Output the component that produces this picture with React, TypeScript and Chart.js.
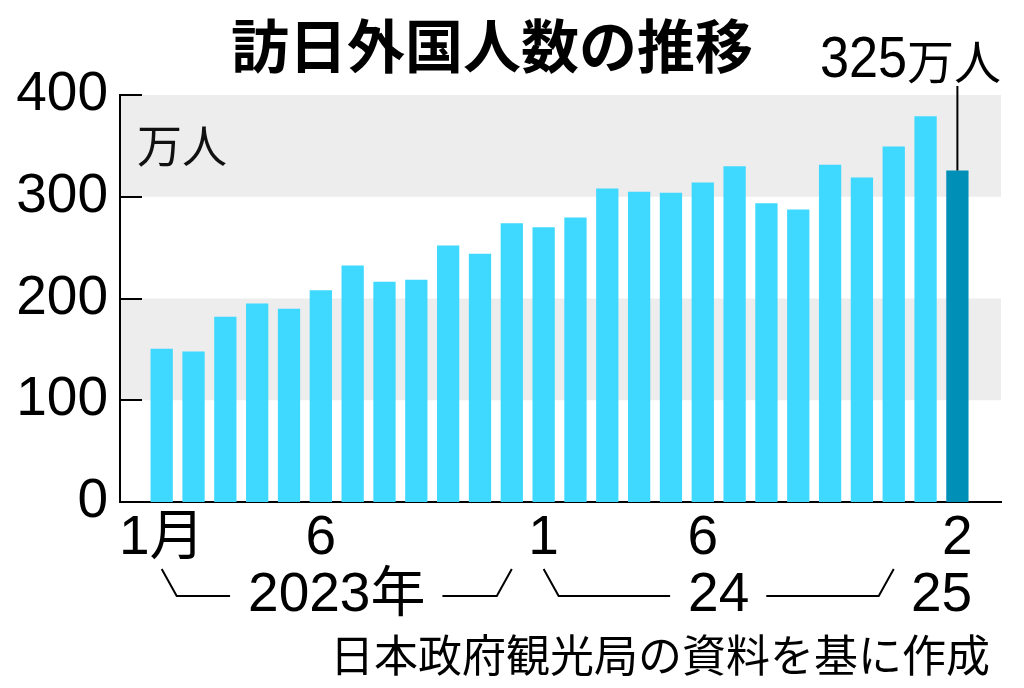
import React, { useEffect, useRef } from "react";
import { Chart, registerables } from "chart.js";

Chart.register(...registerables);

// ---- data ----
const categories = [
  "2023/1", "2023/2", "2023/3", "2023/4", "2023/5", "2023/6",
  "2023/7", "2023/8", "2023/9", "2023/10", "2023/11", "2023/12",
  "2024/1", "2024/2", "2024/3", "2024/4", "2024/5", "2024/6",
  "2024/7", "2024/8", "2024/9", "2024/10", "2024/11", "2024/12",
  "2025/1", "2025/2",
];
const visitors = [
  150.5, 148, 182, 195, 190, 208, 232.5, 216.5, 218.5, 252, 244, 274,
  270, 279.5, 308, 305, 304, 314, 330, 293.5, 287.5, 331.5, 319, 349.5,
  379, 325.8,
];
const xTickLabels = [
  "1月", "", "", "", "", "6", "", "", "", "", "", "",
  "1", "", "", "", "", "6", "", "", "", "", "", "",
  "", "2",
];
const yearLabels = ["2023年", "24", "25"];
const yearStartIdx = [0, 12, 24];
const yearEndIdx = [11, 23, 25];
const yTicks = [0, 100, 200, 300, 400];
const bandRanges = [[100, 200], [300, 400]];
const highlightIndex = 25;
const titleText = "訪日外国人数の推移";
const unitText = "万人";
const sourceText = "日本政府観光局の資料を基に作成";

// ---- style ----
const X_MIN = -1.31;
const X_MAX = 26.37;
const BAR = "#3FD8FE";
const BAR_HL = "#008FB7";
const BAND = "#EDEDED";
const SANS = '"Liberation Sans", Arial, "Noto Sans CJK JP", sans-serif';
const CJK = '"Noto Sans CJK JP", sans-serif';

const decor = {
  id: "decor",
  beforeDraw(chart: any) {
    const { ctx, chartArea: ca, scales } = chart;
    const y = scales.y;
    ctx.save();
    ctx.fillStyle = BAND;
    for (const [lo, hi] of bandRanges) {
      const yt = y.getPixelForValue(hi);
      const yb = y.getPixelForValue(lo);
      ctx.fillRect(ca.left + 1, yt, ca.right - ca.left - 1, yb - yt);
    }
    ctx.restore();
  },
  afterDraw(chart: any) {
    const { ctx, chartArea: ca, scales } = chart;
    const x = scales.x;
    const y = scales.y;
    ctx.save();
    ctx.strokeStyle = "#000";
    ctx.fillStyle = "#000";
    ctx.lineWidth = 2;

    // inner tick marks
    for (const v of yTicks) {
      if (v === 0) continue;
      const py = Math.round(y.getPixelForValue(v));
      ctx.beginPath();
      ctx.moveTo(ca.left, py);
      ctx.lineTo(ca.left + 22, py);
      ctx.stroke();
    }

    // title
    ctx.font = `bold 58px ${CJK}`;
    ctx.textAlign = "center";
    ctx.textBaseline = "middle";
    ctx.fillText(titleText, 492, 46);

    // unit
    ctx.font = `45px ${CJK}`;
    ctx.textAlign = "left";
    ctx.fillStyle = "#111";
    ctx.fillText(unitText, ca.left + 17, ca.top + 51);
    ctx.fillStyle = "#000";

    // highlight annotation
    const hx = x.getPixelForValue(highlightIndex);
    const hy = y.getPixelForValue(visitors[highlightIndex]);
    ctx.beginPath();
    ctx.moveTo(hx, 86);
    ctx.lineTo(hx, hy);
    ctx.stroke();
    ctx.textAlign = "right";
    ctx.font = `47px ${CJK}`;
    const unitW = ctx.measureText(unitText).width;
    ctx.fillText(unitText, ca.right, 61);
    ctx.font = `58px ${SANS}`;
    ctx.save();
    ctx.translate(ca.right - unitW, 0);
    ctx.scale(0.9, 1);
    ctx.fillText(String(Math.floor(visitors[highlightIndex])), 0, 61);
    ctx.restore();

    // year row
    const rowY = ca.bottom + 94;
    const topY = ca.bottom + 67;
    ctx.font = `55px ${SANS}`;
    ctx.textAlign = "center";
    for (let i = 0; i < yearLabels.length; i++) {
      const xs = x.getPixelForValue(yearStartIdx[i]);
      const xe = x.getPixelForValue(yearEndIdx[i]);
      const cx = (xs + xe) / 2;
      ctx.fillText(yearLabels[i], cx, rowY);
      if (yearEndIdx[i] - yearStartIdx[i] >= 3) {
        const w = ctx.measureText(yearLabels[i]).width;
        ctx.beginPath();
        ctx.moveTo(xs, topY);
        ctx.lineTo(xs + 15, rowY);
        ctx.lineTo(cx - w / 2 - 18, rowY);
        ctx.moveTo(cx + w / 2 + 17, rowY);
        ctx.lineTo(xe - 15, rowY);
        ctx.lineTo(xe, topY);
        ctx.stroke();
      }
    }

    // source
    ctx.font = `44px ${CJK}`;
    ctx.textAlign = "right";
    ctx.fillText(sourceText, 990, 655);
    ctx.restore();
  },
};

export default function App() {
  const ref = useRef<HTMLCanvasElement | null>(null);
  useEffect(() => {
    if (!ref.current) return;
    const tickIdx = xTickLabels
      .map((l, i) => (l ? i : -1))
      .filter((i) => i >= 0);
    const chart = new Chart(ref.current, {
      type: "bar",
      data: {
        labels: categories,
        datasets: [
          {
            data: visitors.map((v, i) => ({ x: i, y: v })) as any,
            backgroundColor: visitors.map((_, i) => (i === highlightIndex ? BAR_HL : BAR)),
            borderWidth: 0,
            barPercentage: 0.7,
            categoryPercentage: 1,
          },
        ],
      },
      options: {
        animation: false,
        responsive: false,
        maintainAspectRatio: false,
        layout: { padding: { top: 95, right: 23, left: 0, bottom: 0 } },
        plugins: { legend: { display: false }, tooltip: { enabled: false }, title: { display: false } },
        scales: {
          x: {
            type: "linear",
            min: X_MIN,
            max: X_MAX,
            bounds: "data",
            offset: false,
            grid: { display: false, drawTicks: false, offset: false },
            border: { display: true, color: "#000", width: 2 },
            afterBuildTicks: (scale: any) => {
              scale.ticks = tickIdx.map((v) => ({ value: v }));
              scale.min = X_MIN;
              scale.max = X_MAX;
            },
            afterFit: (scale: any) => {
              scale.height = 186;
            },
            ticks: {
              autoSkip: false,
              maxRotation: 0,
              padding: 4,
              color: "#000",
              font: { family: SANS, size: 55 },
              callback: (value: any) => xTickLabels[value] ?? "",
            },
          },
          y: {
            min: 0,
            max: 400,
            grid: { display: false, drawTicks: false },
            border: { display: true, color: "#000", width: 2 },
            afterFit: (scale: any) => {
              scale.width = 120;
            },
            ticks: {
              stepSize: 100,
              padding: 12,
              color: "#000",
              font: { family: SANS, size: 55 },
            },
          },
        },
      },
      plugins: [decor],
    });
    return () => chart.destroy();
  }, []);
  return (
    <div style={{ position: "absolute", left: 0, top: 0, width: 1024, height: 688, background: "#fff" }}>
      <canvas ref={ref} width={1024} height={688} />
    </div>
  );
}
